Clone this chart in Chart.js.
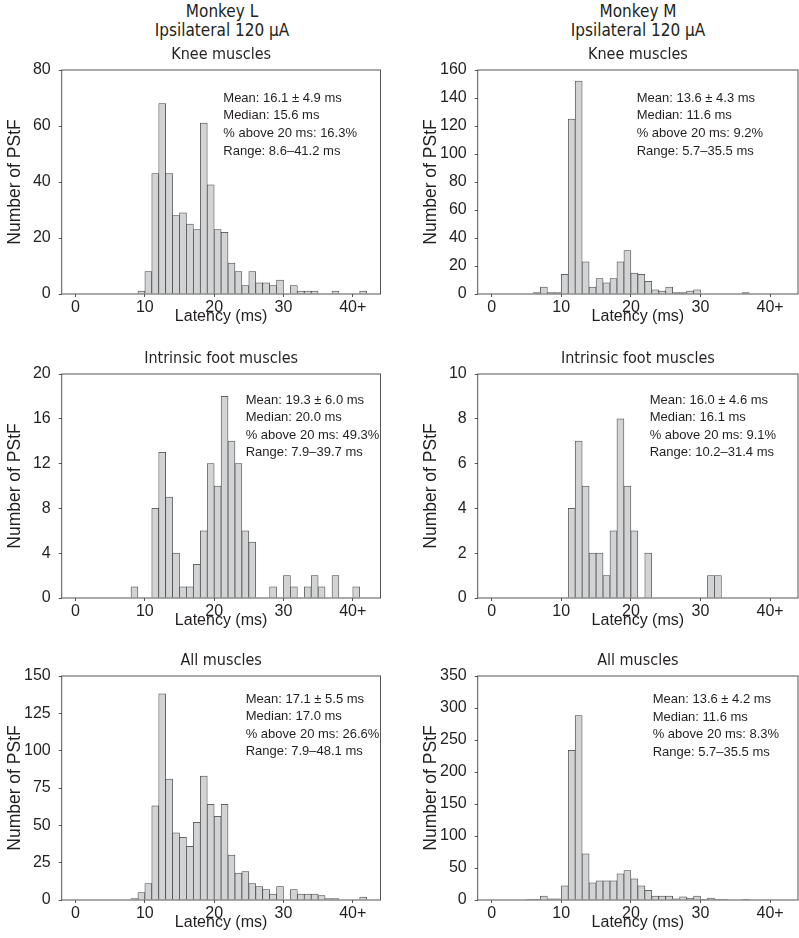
<!DOCTYPE html>
<html>
<head>
<meta charset="utf-8">
<script src="https://cdn.jsdelivr.net/npm/chart.js@4.4.1/dist/chart.umd.min.js"></script>
<style>
  body { margin: 0; background: #fff; width: 799px; height: 938px; position: relative; overflow: hidden; }
  .head { position: absolute; width: 320px; text-align: center; color: #231f20;
          font: 17px 'DejaVu Sans Condensed', sans-serif; line-height: 19px; }
  canvas { position: absolute; }
</style>
</head>
<body>
<div class="head" style="left:62px; top:2px">Monkey L<br>Ipsilateral 120 µA</div>
<div class="head" style="left:478px; top:2px">Monkey M<br>Ipsilateral 120 µA</div>

<canvas id="kneeL" width="400" height="326" style="left:0; top:0"></canvas>
<canvas id="kneeM" width="383" height="326" style="left:416px; top:0"></canvas>
<canvas id="footL" width="400" height="326" style="left:0; top:304px"></canvas>
<canvas id="footM" width="383" height="326" style="left:416px; top:304px"></canvas>
<canvas id="allL" width="400" height="326" style="left:0; top:606px"></canvas>
<canvas id="allM" width="383" height="326" style="left:416px; top:606px"></canvas>

<script>
// latency bins (ms); bar k covers [k, k+1), last bar is the 40+ bin
var latencyBins = [];
for (var k = 0; k < 42; k++) latencyBins.push(k);

var xTicks = [0, 10, 20, 30, 40];
var xTickLabels = ['0', '10', '20', '30', '40+'];

// number of PStF per bin
var kneeL = [0,0,0,0,0,0,0,0,0, 1,8,43,68,43,28,29,25,23,61,39, 23,22,11,8,3,8,4,4,3,5, 0,3,1,1,1,0,0,1,0,0, 0,1];
var kneeM = [0,0,0,0,0,0, 1,5,1,1, 14,125,152,23,5,11,8,11,23,31, 15,14,9,3,2,5,1,1,2,3, 0,0,0,0,0,0,1,0,0,0, 0,0];
var footL = [0,0,0,0,0,0,0,0, 1,0, 0,8,13,9,4,1,1,3,6,12, 10,18,14,12,6,5,0,0,1,0, 2,1,0,1,2,1,0,2,0,0, 1,0];
var footM = [0,0,0,0,0,0,0,0,0,0, 0,4,7,5,2,2,1,3,8,5, 3,0,2,0,0,0,0,0,0,0, 0,1,1,0,0,0,0,0,0,0, 0,0];
var allL  = [0,0,0,0,0,0,0,0, 1,5, 11,63,138,81,45,42,36,52,83,64, 56,64,30,18,19,11,9,7,4,9, 0,7,4,4,4,3,1,1,0,0, 0,2];
var allM  = [0,0,0,0,0, 1,1,6,2,2, 22,234,288,72,27,30,30,30,41,46, 33,22,15,6,6,6,2,5,3,6, 1,3,1,1,0,0,1,0,0,0, 0,0];

// y axis ticks
var yMaxKneeL = 80,  yStepKneeL = 20;
var yMaxKneeM = 160, yStepKneeM = 20;
var yMaxFootL = 20,  yStepFootL = 4;
var yMaxFootM = 10,  yStepFootM = 2;
var yMaxAllL  = 150, yStepAllL  = 25;
var yMaxAllM  = 350, yStepAllM  = 50;

var titles = ['Knee muscles', 'Intrinsic foot muscles', 'All muscles'];

var statsKneeL = ['Mean: 16.1 ± 4.9 ms', 'Median: 15.6 ms', '% above 20 ms: 16.3%', 'Range: 8.6–41.2 ms'];
var statsKneeM = ['Mean: 13.6 ± 4.3 ms', 'Median: 11.6 ms', '% above 20 ms: 9.2%',  'Range: 5.7–35.5 ms'];
var statsFootL = ['Mean: 19.3 ± 6.0 ms', 'Median: 20.0 ms', '% above 20 ms: 49.3%', 'Range: 7.9–39.7 ms'];
var statsFootM = ['Mean: 16.0 ± 4.6 ms', 'Median: 16.1 ms', '% above 20 ms: 9.1%',  'Range: 10.2–31.4 ms'];
var statsAllL  = ['Mean: 17.1 ± 5.5 ms', 'Median: 17.0 ms', '% above 20 ms: 26.6%', 'Range: 7.9–48.1 ms'];
var statsAllM  = ['Mean: 13.6 ± 4.2 ms', 'Median: 11.6 ms', '% above 20 ms: 8.3%',  'Range: 5.7–35.5 ms'];

Chart.defaults.font.family = "'Liberation Sans', Arial, sans-serif";
Chart.defaults.color = '#231f20';

// frame, panel title and the stats block
var panelText = {
    id: 'panelText',
    afterDraw: function (chart, args, opts) {
        var ctx = chart.ctx, a = chart.chartArea;
        ctx.save();
        ctx.strokeStyle = '#555';
        ctx.lineWidth = 1;
        ctx.strokeRect(a.left, a.top, a.right - a.left, a.bottom - a.top);
        ctx.fillStyle = '#231f20';
        ctx.textBaseline = 'middle';
        ctx.textAlign = 'center';
        ctx.font = "16px 'DejaVu Sans Condensed', sans-serif";
        ctx.fillText(opts.title, (a.left + a.right) / 2, a.top - 15);
        ctx.textAlign = 'left';
        ctx.font = "13px 'Liberation Sans', Arial, sans-serif";
        opts.stats.forEach(function (s, i) {
            ctx.fillText(s, a.left + opts.dx, a.top + opts.dy + i * 17.6);
        });
        ctx.restore();
    }
};

function inicializarPanel(id, counts, yMax, yStep, title, stats, dx, dy, padRight) {
    var points = [];
    latencyBins.forEach(function (b, i) {
        if (counts[i] > 0) points.push({ x: b + 0.5, y: counts[i] });
    });
    var ctx = document.getElementById(id).getContext('2d');
    return new Chart(ctx, {
        type: 'bar',
        data: {
            datasets: [{
                data: points,
                backgroundColor: '#d1d3d4',
                borderColor: '#444',
                borderWidth: 0.75,
                borderSkipped: 'start',
                barPercentage: 1,
                categoryPercentage: 1
            }]
        },
        options: {
            responsive: false,
            animation: false,
            layout: { padding: { top: 70, right: padRight, left: 0, bottom: 0 } },
            plugins: {
                legend: { display: false },
                tooltip: { enabled: false },
                panelText: { title: title, stats: stats, dx: dx, dy: dy }
            },
            scales: {
                x: {
                    type: 'linear',
                    offset: false,
                    min: -2,
                    max: 44,
                    afterBuildTicks: function (scale) {
                        scale.ticks = xTicks.map(function (v) { return { value: v }; });
                    },
                    afterFit: function (scale) { scale.height = 32; },
                    ticks: {
                        padding: 1,
                        maxRotation: 0,
                        font: { size: 16 },
                        callback: function (v) { return xTickLabels[xTicks.indexOf(v)]; }
                    },
                    grid: { display: true, offset: false, drawOnChartArea: false, tickLength: 3, color: '#555' },
                    border: { display: false },
                    title: { display: true, text: 'Latency (ms)', font: { size: 16 }, padding: 0 }
                },
                y: {
                    min: 0,
                    max: yMax,
                    afterFit: function (scale) { scale.width = 61.7; },
                    ticks: { stepSize: yStep, padding: 8, font: { size: 16 } },
                    grid: { display: true, drawOnChartArea: false, tickLength: 3, color: '#555' },
                    border: { display: false },
                    title: { display: true, text: 'Number of PStF', font: { size: 17.5 }, padding: { top: 5, bottom: 0 } }
                }
            }
        },
        plugins: [panelText]
    });
}

inicializarPanel('kneeL', kneeL, yMaxKneeL, yStepKneeL, titles[0], statsKneeL, 161.6, 28.3, 19.5);
inicializarPanel('kneeM', kneeM, yMaxKneeM, yStepKneeM, titles[0], statsKneeM, 159, 28.3, 1);
inicializarPanel('footL', footL, yMaxFootL, yStepFootL, titles[1], statsFootL, 184, 26, 19.5);
inicializarPanel('footM', footM, yMaxFootM, yStepFootM, titles[1], statsFootM, 172, 26, 1);
inicializarPanel('allL',  allL,  yMaxAllL,  yStepAllL,  titles[2], statsAllL,  184, 23, 19.5);
inicializarPanel('allM',  allM,  yMaxAllM,  yStepAllM,  titles[2], statsAllM,  175, 23.5, 1);
</script>
</body>
</html>
